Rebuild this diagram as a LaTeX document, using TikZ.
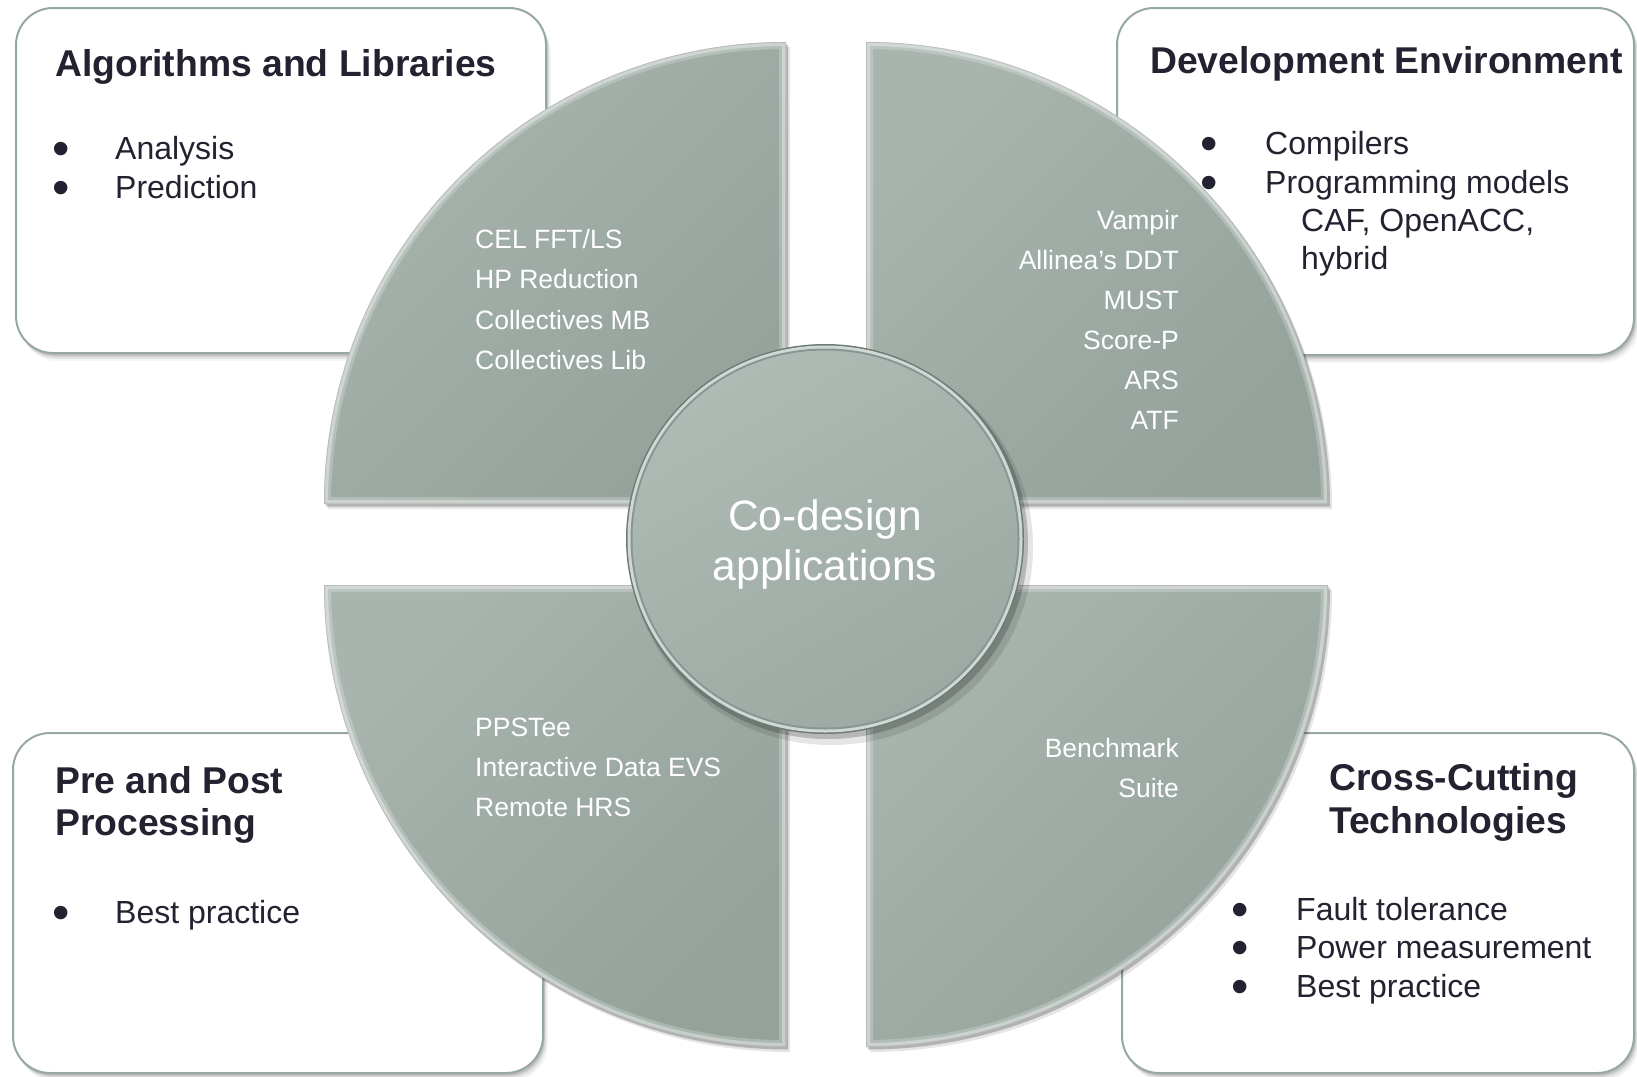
\documentclass[tikz,border=0pt]{standalone}
\usepackage{graphicx}
\usepackage{fontspec}
\setmainfont{Liberation Sans}

\definecolor{quadlight}{RGB}{168,180,173}
\definecolor{quaddark}{RGB}{148,162,155}
\definecolor{corelight}{RGB}{174,186,180}
\definecolor{coredark}{RGB}{156,170,163}
\definecolor{ringlight}{RGB}{208,216,212}
\definecolor{ringdark}{RGB}{108,123,116}
\definecolor{boxline}{RGB}{150,168,159}
\definecolor{ink}{RGB}{34,34,48}

% quarter disc: corner (#1,#2), straight edge leaving at angle #3, arc to angle #4
\newcommand\quadpath[4]{(#1,#2) -- ++(#3:462pt) arc[start angle=#3,end angle=#4,radius=462pt] -- cycle}

% bevelled quarter disc with a soft shadow
\newcommand\quadrant[4]{%
  \fill[black,opacity=0.10,shift={(4pt,-5pt)}] \quadpath{#1}{#2}{#3}{#4};
  \fill[black,opacity=0.22,shift={(2pt,-2.5pt)}] \quadpath{#1}{#2}{#3}{#4};
  \shade[top color=quadlight,bottom color=quaddark,shading angle=45] \quadpath{#1}{#2}{#3}{#4};
  \begin{scope}
    \clip \quadpath{#1}{#2}{#3}{#4};
    \draw[white,opacity=0.22,line width=14pt] \quadpath{#1}{#2}{#3}{#4};
    \draw[white,opacity=0.35,line width=8pt] \quadpath{#1}{#2}{#3}{#4};
    \draw[black,opacity=0.12,line width=1.5pt] \quadpath{#1}{#2}{#3}{#4};
  \end{scope}
}

% white rounded panel with a soft drop shadow
\newcommand\panelbox[4]{%
  \foreach \sh/\op in {8/0.04,6/0.06,4/0.08,2.5/0.10}
    \fill[black,opacity=\op,rounded corners=37pt] ({#1+0.6*\sh},{#2-\sh}) rectangle ({#3+0.6*\sh},{#4-\sh});
  \draw[panel] (#1,#2) rectangle (#3,#4);
}

% enlarged bullet glyph
\newcommand\bigbullet{\scalebox{1.55}{•}}

\tikzset{
  panel/.style={draw=boxline,line width=2pt,fill=white,rounded corners=37pt},
  heading/.style={font=\fontsize{37.3pt}{42pt}\selectfont\bfseries,text=ink,anchor=base west,inner sep=0pt},
  entry/.style={font=\fontsize{32pt}{38pt}\selectfont,text=ink,anchor=base west,inner sep=0pt},
  bulletmark/.style={font=\fontsize{32pt}{38pt}\selectfont,text=ink,anchor=base west,inner sep=0pt,
    text height=20pt,text depth=0pt,yshift=-6pt,xshift=-3pt},
  tooltext/.style={font=\fontsize{26.5pt}{32pt}\selectfont,text=white,inner sep=0pt},
  coretext/.style={font=\fontsize{42.5pt}{50pt}\selectfont,text=white,align=center,inner sep=0pt}
}

\begin{document}
\begin{tikzpicture}[x=1pt,y=1pt]
\useasboundingbox (0,0) rectangle (1637,-1076);
\fill[white] (0,0) rectangle (1637,-1076);

% panels
\panelbox{16}{-8}{546}{-353}
\panelbox{1117}{-8}{1634}{-355}
\panelbox{13}{-733}{543}{-1073}
\panelbox{1122}{-733}{1634}{-1073}

% quarter discs
\quadrant{786}{-504}{180}{90}
\quadrant{866}{-504}{90}{0}
\quadrant{786}{-585}{270}{180}
\quadrant{866}{-585}{0}{-90}

% central disc
\fill[black,opacity=0.10] (831,-547) ellipse [x radius=202pt,y radius=198pt];
\fill[black,opacity=0.20] (828,-543) ellipse [x radius=200pt,y radius=196pt];
\fill[ringdark] (825,-539) ellipse [x radius=199pt,y radius=195pt];
\fill[ringlight] (825,-539) ellipse [x radius=197.5pt,y radius=193.5pt];
\fill[ringdark!80!white] (825,-539) ellipse [x radius=194.5pt,y radius=190.5pt];
\shade[top color=corelight,bottom color=coredark,shading angle=30] (825,-539) ellipse [x radius=192.5pt,y radius=188.5pt];

\node[coretext] (core) at (825,-545) {Co-design\\applications};

% tools inside the quarter discs
\foreach \t [count=\i] in {CEL FFT/LS,HP Reduction,Collectives MB,Collectives Lib}
  \node[tooltext,anchor=base west] (lib-\i) at (475,{-248.5-40.3*(\i-1)}) {\t};
\foreach \t [count=\i] in {Vampir,Allinea’s DDT,MUST,Score-P,ARS,ATF}
  \node[tooltext,anchor=base east] (dev-\i) at (1179,{-229-40*(\i-1)}) {\t};
\foreach \t [count=\i] in {PPSTee,Interactive Data EVS,Remote HRS}
  \node[tooltext,anchor=base west] (pre-\i) at (475,{-736-40*(\i-1)}) {\t};
\foreach \t [count=\i] in {Benchmark,Suite}
  \node[tooltext,anchor=base east] (cross-\i) at (1179,{-757-40*(\i-1)}) {\t};

% Algorithms and Libraries
\node[heading] (alg-title) at (55,-76) {Algorithms and Libraries};
\node[bulletmark] (alg-b1) at (55,-159) {\bigbullet};
\node[entry] (alg-i1) at (115,-159) {Analysis};
\node[bulletmark] (alg-b2) at (55,-198) {\bigbullet};
\node[entry] (alg-i2) at (115,-198) {Prediction};

% Development Environment
\node[heading] (dev-title) at (1150,-73) {Development Environment};
\node[bulletmark] (dev-b1) at (1203.5,-154) {\bigbullet};
\node[entry] (dev-i1) at (1265,-154) {Compilers};
\node[bulletmark] (dev-b2) at (1203.5,-193) {\bigbullet};
\node[entry] (dev-i2) at (1265,-193) {Programming models};
\node[entry] (dev-i3) at (1301,-231) {CAF, OpenACC,};
\node[entry] (dev-i4) at (1301,-269) {hybrid};

% Pre and Post Processing
\node[heading] (pre-title1) at (55,-793) {Pre and Post};
\node[heading] (pre-title2) at (55,-835) {Processing};
\node[bulletmark] (pre-b1) at (55,-923) {\bigbullet};
\node[entry] (pre-i1) at (115,-923) {Best practice};

% Cross-Cutting Technologies
\node[heading] (cross-title1) at (1329,-790) {Cross-Cutting};
\node[heading] (cross-title2) at (1329,-833) {Technologies};
\node[bulletmark] (cross-b1) at (1234.5,-920) {\bigbullet};
\node[entry] (cross-i1) at (1296,-920) {Fault tolerance};
\node[bulletmark] (cross-b2) at (1234.5,-958) {\bigbullet};
\node[entry] (cross-i2) at (1296,-958) {Power measurement};
\node[bulletmark] (cross-b3) at (1234.5,-997) {\bigbullet};
\node[entry] (cross-i3) at (1296,-997) {Best practice};
\end{tikzpicture}
\end{document}
